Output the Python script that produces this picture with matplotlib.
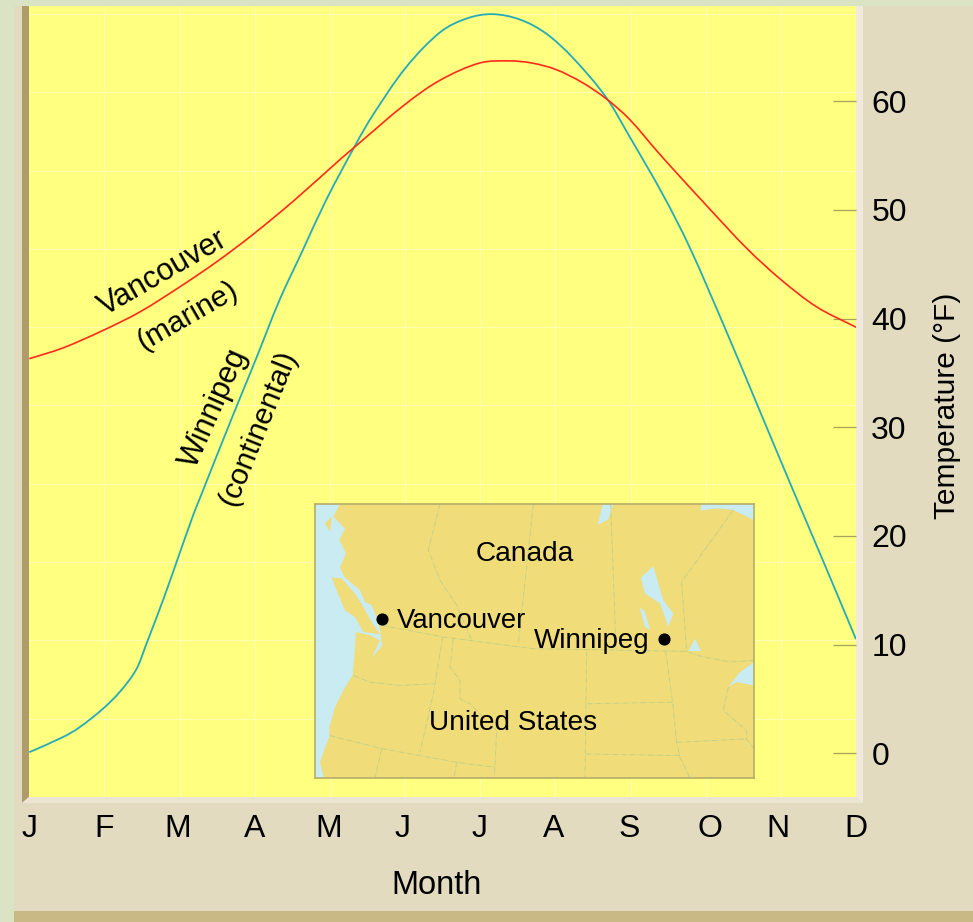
import matplotlib
matplotlib.use('Agg')
import matplotlib.pyplot as plt
from matplotlib.patches import Polygon, PathPatch
from matplotlib.path import Path

plt.rcParams['font.family'] = ['Liberation Sans', 'DejaVu Sans']

W, H = 973, 922

# month position, temperature in F
winnipeg_m = [0.0, 0.45, 0.67, 0.98, 1.21, 1.43, 1.56, 1.78, 1.98, 2.18, 2.26, 2.71, 3.0, 3.33, 3.64, 3.95,
              4.35, 4.57, 5.0, 5.46, 5.82, 6.16, 6.53, 6.88, 7.23, 7.68, 7.99, 8.43, 8.79,
              9.27, 9.72, 10.12, 10.55, 11.0]
winnipeg_t = [0.1, 1.5, 2.4, 4.1, 5.7, 7.8, 10.1, 14.1, 18.0, 21.9, 23.3, 31.1, 36.0, 41.7, 46.3, 50.9,
              56.1, 58.7, 63.0, 66.3, 67.6, 68.0, 67.5, 66.2, 64.0, 60.3, 56.7, 51.4, 46.5,
              38.9, 31.5, 24.9, 17.9, 10.5]
vancouver_m = [0.0, 0.45, 0.98, 1.47, 2.0, 2.49, 2.97, 3.53, 4.13, 4.35, 5.0, 5.46, 5.99, 6.39, 6.69,
               7.01, 7.36, 7.68, 7.99, 8.34, 8.52, 9.01, 9.54, 9.98, 10.47, 11.0]
vancouver_t = [36.3, 37.3, 38.9, 40.6, 42.9, 45.2, 47.7, 50.9, 54.6, 55.9, 59.7, 61.9, 63.5, 63.7, 63.5,
               62.9, 61.7, 60.2, 58.3, 55.5, 54.1, 50.4, 46.5, 43.7, 41.1, 39.2]

month_labels = ['J', 'F', 'M', 'A', 'M', 'J', 'J', 'A', 'S', 'O', 'N', 'D']
month_label_pos = [0, 1, 1.98, 3, 3.99, 4.97, 5.99, 6.98, 7.98, 9.05, 9.96, 11]
temp_ticks = [0, 10, 20, 30, 40, 50, 60]
grid_months = list(range(1, 11))
grid_temps = [3.2, 10.4, 17.6, 24.8, 32, 39.2, 46.4, 53.6, 60.8, 68]

# map shapes, in the map's own units
land = [(120, 42), (100, 80), (135, 115), (118, 150), (138, 190), (120, 232), (135, 262), (180, 300), (195, 335),
        (215, 345), (232, 385), (238, 410), (247, 465), (215, 503), (240, 450), (210, 435), (168, 425), (165, 470),
        (158, 555), (130, 600), (105, 650), (88, 710), (88, 740), (72, 780), (60, 815), (72, 862),
        (1362, 862), (1362, 585), (1310, 575), (1285, 590), (1320, 545), (1362, 515),
        (1362, 90), (1300, 60), (1250, 55), (1200, 62), (1205, 42)]
vancouver_island = [(95, 262), (125, 265), (165, 310), (190, 350), (215, 395), (240, 432), (190, 425), (165, 380),
                    (135, 360), (110, 300)]
small_island = [(75, 100), (95, 80), (90, 125)]
lakes = [[(908, 42), (893, 105), (925, 88), (940, 42)],
         [(1060, 228), (1022, 262), (1035, 310), (1080, 340), (1105, 410), (1120, 370), (1090, 330)],
         [(1018, 350), (1035, 410), (1050, 418), (1035, 365)],
         [(1165, 482), (1185, 445), (1203, 482)],
         [(100, 205), (115, 190), (112, 212)]]
borders = [[(245, 405), (430, 440), (700, 475), (1160, 483), (1200, 497), (1290, 515), (1362, 510)],
           [(420, 42), (385, 180), (420, 270), (470, 345), (515, 450)],
           [(700, 42), (655, 460)],
           [(932, 42), (948, 475)],
           [(1300, 60), (1145, 275), (1160, 483)],
           [(428, 440), (400, 610), (360, 785)],
           [(460, 445), (450, 530), (480, 570), (480, 625), (510, 640), (590, 720), (583, 862)],
           [(160, 555), (210, 575), (300, 585), (400, 580)],
           [(90, 735), (250, 775), (470, 815), (585, 830)],
           [(245, 775), (225, 862)],
           [(470, 815), (462, 862)],
           [(860, 483), (855, 862)],
           [(862, 640), (1118, 635)],
           [(1097, 483), (1118, 635), (1130, 755), (1140, 800), (1170, 862)],
           [(858, 790), (1140, 795)],
           [(1130, 755), (1340, 745)],
           [(1285, 590), (1270, 660), (1340, 720), (1340, 745), (1362, 775)]]
map_cities = [(247, 387), (1092, 446)]


def smooth_curve(xs, ys):
    # bezier through the read points, slope at each point from its two neighbours
    n = len(xs)
    slopes = []
    for i in range(n):
        a = max(i - 1, 0)
        b = min(i + 1, n - 1)
        slopes.append((ys[b] - ys[a]) / (xs[b] - xs[a]))
    verts = [(xs[0], ys[0])]
    codes = [Path.MOVETO]
    for i in range(n - 1):
        h = (xs[i + 1] - xs[i]) / 3
        verts.append((xs[i] + h, ys[i] + slopes[i] * h))
        verts.append((xs[i + 1] - h, ys[i + 1] - slopes[i + 1] * h))
        verts.append((xs[i + 1], ys[i + 1]))
        codes += [Path.CURVE4, Path.CURVE4, Path.CURVE4]
    return Path(verts, codes)


fig = plt.figure(figsize=(W / 100, H / 100), dpi=100, facecolor='#e2dbc0')

# background layer in picture pixels, for the frame around the plot
bg = fig.add_axes([0, 0, 1, 1], zorder=0)
bg.set_xlim(0, W)
bg.set_ylim(H, 0)
bg.axis('off')
bg.add_patch(Polygon([(0, 0), (W, 0), (W, 6), (14, 6), (14, H), (0, H)], fc='#dae3c3', ec='none'))
bg.add_patch(Polygon([(14, 911), (W, 911), (W, H), (14, H)], fc='#c9b985', ec='none'))
bg.add_patch(Polygon([(22, 6), (29, 6), (29, 797), (22, 803)], fc='#b09b6b', ec='none'))
bg.add_patch(Polygon([(22, 803), (29, 797), (856, 797), (863, 803)], fc='#ece5d2', ec='none'))
bg.add_patch(Polygon([(856, 6), (863, 6), (863, 803), (856, 797)], fc='#efeadd', ec='none'))
bg.text(437, 885, 'Month', fontsize=23.5, ha='center', va='center')
bg.text(947, 406, 'Temperature (°F)', fontsize=21.5, rotation=90, ha='center', va='center')

ax = fig.add_axes([29.3 / W, 1 - 797 / H, (856 - 29.3) / W, (797 - 6) / H], zorder=1)
ax.set_facecolor('#ffff80')
ax.set_xlim(0, 11)
ax.set_ylim(-4.02, 68.75)
for s in ax.spines.values():
    s.set_visible(False)

ax.vlines(grid_months, -4.02, 68.75, color='#ffffb4', lw=0.8, zorder=1)
ax.hlines(grid_temps, 0, 11, color='#ffffb4', lw=0.8, zorder=1)
ax.add_patch(PathPatch(smooth_curve(winnipeg_m, winnipeg_t), fc='none', ec='#25aab8', lw=1.3, zorder=3))
ax.add_patch(PathPatch(smooth_curve(vancouver_m, vancouver_t), fc='none', ec='#ff2a1a', lw=1.2, zorder=3))

ax.set_xticks(month_label_pos)
ax.set_xticklabels(month_labels, fontsize=23)
ax.tick_params(axis='x', length=0, pad=12)
ax.yaxis.tick_right()
ax.set_yticks(temp_ticks)
ax.tick_params(axis='y', direction='in', length=16.5, width=0.9, color='#a5a35a', pad=11, labelsize=23)

# curve labels placed in picture pixels
ax.text(163, 273, 'Vancouver', transform=bg.transData, fontsize=22, rotation=30, ha='center', va='center',
        rotation_mode='anchor')
ax.text(187, 316, '(marine)', transform=bg.transData, fontsize=21.5, rotation=30, ha='center', va='center',
        rotation_mode='anchor')
ax.text(214, 408, 'Winnipeg', transform=bg.transData, fontsize=22, rotation=66, ha='center', va='center',
        rotation_mode='anchor')
ax.text(258, 428, '(continental)', transform=bg.transData, fontsize=21.5, rotation=68, ha='center', va='center',
        rotation_mode='anchor')

# inset map
m = fig.add_axes([315 / W, 1 - 778 / H, 439 / W, 274 / H], zorder=2)
m.set_xlim(45, 1362)
m.set_ylim(862, 42)
m.set_xticks([])
m.set_yticks([])
m.set_facecolor('#c9ebf2')
for s in m.spines.values():
    s.set_color('#b5ad6d')
    s.set_linewidth(1.2)
m.add_patch(Polygon(land, fc='#f0dc78', ec='none'))
m.add_patch(Polygon(vancouver_island, fc='#f0dc78', ec='none'))
m.add_patch(Polygon(small_island, fc='#f0dc78', ec='none'))
for lake in lakes:
    m.add_patch(Polygon(lake, fc='#c9ebf2', ec='none'))
for b in borders:
    m.plot([p[0] for p in b], [p[1] for p in b], color='#bcd08c', lw=0.6, ls='-.')
m.scatter([c[0] for c in map_cities], [c[1] for c in map_cities], s=60, color='black', zorder=5)
m.text(675, 192, 'Canada', fontsize=20.2, ha='center', va='center')
m.text(290, 393, 'Vancouver', fontsize=19.8, ha='left', va='center')
m.text(875, 453, 'Winnipeg', fontsize=20, ha='center', va='center')
m.text(638, 697, 'United States', fontsize=20.2, ha='center', va='center')

fig.savefig('out.png', dpi=100)
